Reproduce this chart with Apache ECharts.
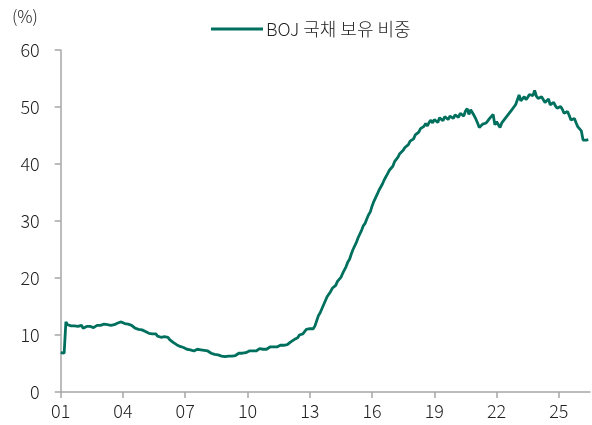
<!DOCTYPE html>
<html>
<head>
<meta charset="utf-8">
<script src="https://cdn.jsdelivr.net/npm/echarts@6/dist/echarts.min.js"></script>
<style>
html,body{margin:0;padding:0;background:#fff;}
#chart{width:592px;height:425px;}
</style>
</head>
<body>
<div id="chart"></div>
<script>
// Monthly series, one array per year (Jan..Dec), BOJ share of JGBs (%)
const startYear = 2001;
const y2001 = [6.9, 6.8, 6.8, 12.3, 11.8, 12.0, 11.6, 11.9, 11.6, 11.9, 11.5, 11.8];
const y2002 = [11.7, 11.2, 11.3, 11.5, 11.2, 11.5, 11.6, 11.3, 11.6, 11.7, 11.4, 11.7];
const y2003 = [11.7, 11.9, 11.6, 11.8, 12.0, 11.7, 12.0, 11.8, 12.1, 12.1, 11.9, 12.3];
const y2004 = [12.3, 12.0, 12.3, 11.9, 12.1, 11.7, 11.6, 11.2, 11.4, 11.0, 11.1, 10.9];
const y2005 = [10.9, 10.6, 10.8, 10.3, 10.5, 10.2, 10.1, 10.2, 9.8, 9.9, 9.6, 9.8];
const y2006 = [9.7, 9.4, 9.6, 9.2, 9.0, 8.7, 8.5, 8.3, 8.0, 8.0, 7.8, 7.8];
const y2007 = [7.7, 7.5, 7.6, 7.4, 7.5, 7.2, 7.4, 7.5, 7.2, 7.4, 7.1, 7.3];
const y2008 = [7.1, 7.2, 6.9, 6.8, 6.9, 6.6, 6.6, 6.5, 6.2, 6.3, 6.1, 6.2];
const y2009 = [6.1, 6.3, 6.2, 6.3, 6.6, 6.4, 6.6, 6.8, 6.7, 6.8, 7.1, 6.9];
const y2010 = [7.0, 7.2, 7.0, 7.2, 7.4, 7.2, 7.4, 7.6, 7.4, 7.5, 7.7, 7.5];
const y2011 = [7.7, 7.9, 7.7, 7.9, 8.1, 7.9, 8.0, 8.2, 8.0, 8.2, 8.4, 8.3];
const y2012 = [8.5, 8.8, 8.8, 9.2, 9.5, 9.5, 10.0, 10.3, 10.2, 10.6, 11.0, 10.9];
const y2013 = [11.1, 11.4, 11.1, 11.6, 12.5, 13.4, 13.9, 14.6, 15.3, 16.0, 16.7, 16.9];
const y2014 = [17.6, 18.2, 17.9, 18.7, 19.4, 19.3, 20.1, 20.8, 21.1, 22.0, 22.8, 23.3];
const y2015 = [24.2, 25.0, 25.3, 26.3, 27.1, 27.4, 28.4, 29.2, 29.6, 30.4, 31.1, 31.6];
const y2016 = [32.6, 33.4, 33.7, 34.7, 35.4, 35.5, 36.5, 37.2, 37.3, 38.3, 38.9, 39.0];
const y2017 = [39.6, 40.4, 40.5, 41.2, 41.8, 41.7, 42.4, 42.9, 42.6, 43.4, 44.0, 43.7];
const y2018 = [44.4, 45.1, 44.8, 45.6, 46.2, 45.9, 46.6, 47.1, 46.7, 47.3, 47.7, 47.2];
const y2019 = [47.8, 48.1, 47.3, 48.1, 48.3, 47.6, 48.3, 48.5, 47.8, 48.4, 48.7, 48.0];
const y2020 = [48.6, 48.9, 48.2, 48.9, 49.1, 48.4, 49.3, 49.7, 48.7, 49.5, 49.5, 48.5];
const y2021 = [47.9, 47.2, 46.4, 46.7, 47.0, 46.9, 47.2, 47.6, 48.0, 48.2, 48.7, 46.9];
const y2022 = [47.4, 47.2, 46.4, 47.2, 47.6, 48.0, 48.3, 48.8, 49.0, 49.6, 50.0, 50.4];
const y2023 = [50.6, 52.1, 51.1, 51.2, 51.8, 51.3, 51.7, 52.2, 52.4, 52.0, 52.9, 51.9];
const y2024 = [51.5, 51.3, 51.8, 51.7, 50.8, 51.0, 51.4, 50.4, 50.5, 50.8, 50.2, 49.8];
const y2025 = [49.9, 50.1, 49.6, 48.9, 49.0, 49.2, 48.5, 47.7, 47.8, 48.0, 47.2, 46.5];
const y2026 = [46.8, 45.8, 44.2, 44.0, 44.2, 44.3];

const seriesName = 'BOJ 국채 보유 비중';
const yTicks = [0, 10, 20, 30, 40, 50, 60];
const xTickYears = [2001, 2004, 2007, 2010, 2013, 2016, 2019, 2022, 2025];

const monthly = [].concat(y2001, y2002, y2003, y2004, y2005, y2006, y2007, y2008, y2009,
  y2010, y2011, y2012, y2013, y2014, y2015, y2016, y2017, y2018, y2019, y2020,
  y2021, y2022, y2023, y2024, y2025, y2026);
const points = monthly.map((v, i) => [startYear + i / 12, v]);

const chart = echarts.init(document.getElementById('chart'));
const font = '"Noto Sans CJK KR", "Noto Sans", sans-serif';
chart.setOption({
  animation: false,
  backgroundColor: '#ffffff',
  textStyle: { fontFamily: font },
  grid: { left: 60.7, right: 2, top: 50, bottom: 33, containLabel: false },
  legend: {
    data: [seriesName],
    top: 20,
    left: 211,
    padding: 0,
    icon: 'rect',
    itemWidth: 52,
    itemHeight: 3,
    itemGap: 4,
    textStyle: { fontFamily: font, fontSize: 18, fontWeight: 300, color: '#222', padding: [0, 0, 0, -2] }
  },
  graphic: [{
    type: 'text', left: 12, top: 8,
    style: { text: '(%)', font: '300 17px ' + font, fill: '#222' }
  }],
  xAxis: {
    type: 'value',
    min: xTickYears[0],
    max: 2026.5,
    interval: 3,
    axisLine: { lineStyle: { color: '#a6a6a6', width: 1.5 } },
    axisTick: { show: true, length: 6, lineStyle: { color: '#a6a6a6', width: 1.5 } },
    splitLine: { show: false },
    axisLabel: {
      fontSize: 18, fontWeight: 300, color: '#222', margin: 10, fontFamily: font,
      showMaxLabel: false,
      formatter: v => (xTickYears.indexOf(v) >= 0 ? String(v % 100).padStart(2, '0') : '')
    }
  },
  yAxis: {
    type: 'value',
    min: yTicks[0],
    max: yTicks[yTicks.length - 1],
    interval: 10,
    axisLine: { show: true, lineStyle: { color: '#a6a6a6', width: 1.5 } },
    axisTick: { show: true, length: 6, lineStyle: { color: '#a6a6a6', width: 1.5 } },
    splitLine: { show: false },
    axisLabel: { fontSize: 18, fontWeight: 300, color: '#222', margin: 21, fontFamily: font }
  },
  series: [{
    name: seriesName,
    type: 'line',
    data: points,
    showSymbol: false,
    symbol: 'none',
    lineStyle: { color: '#00705E', width: 2.8 },
    itemStyle: { color: '#00705E' }
  }]
});
</script>
</body>
</html>
